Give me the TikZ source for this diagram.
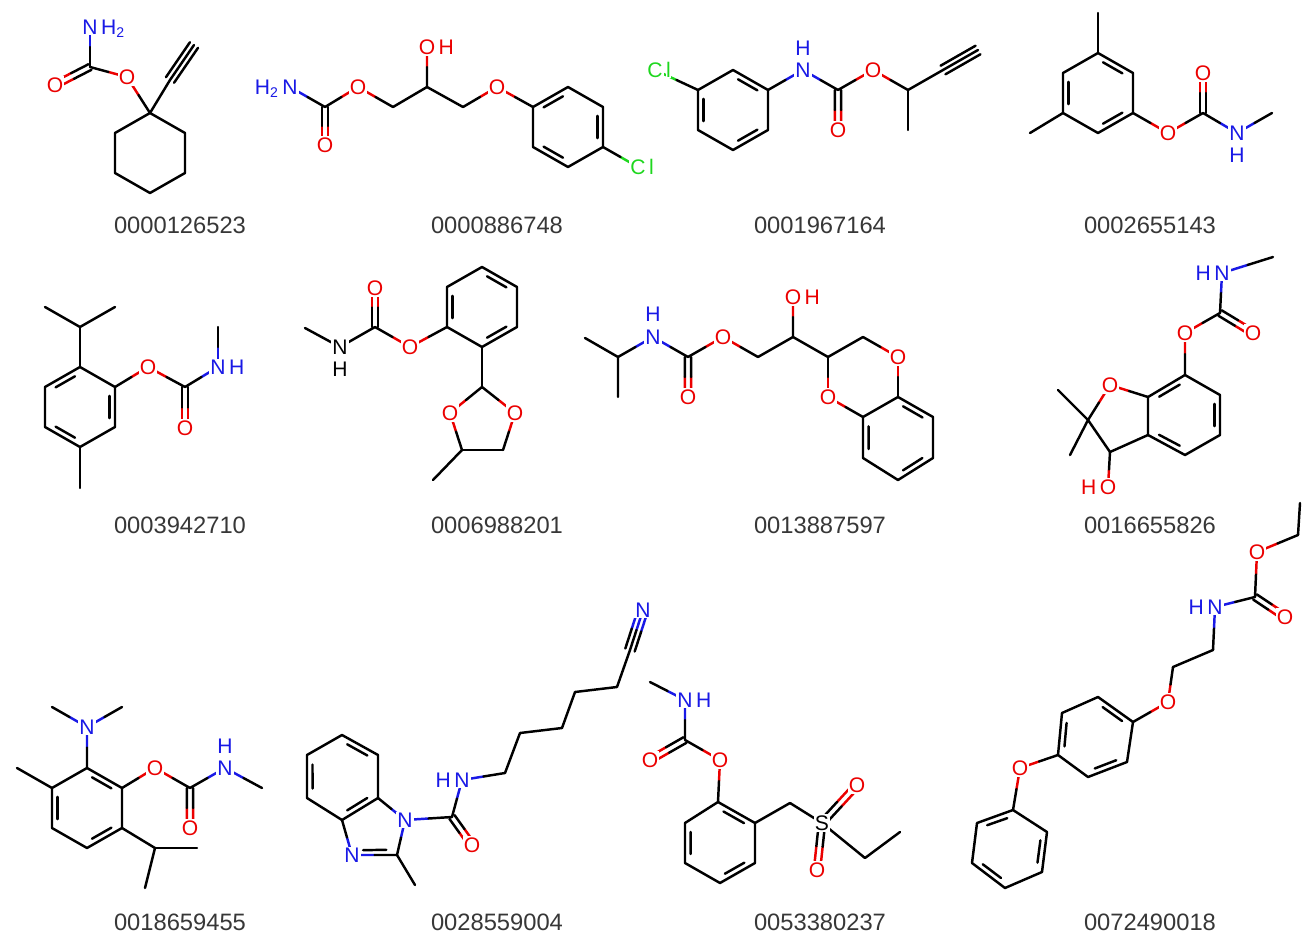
\documentclass[tikz,border=0pt]{standalone}
\usepackage{fontspec}
\setmainfont{Liberation Sans}
\usetikzlibrary{calc}
\definecolor{ored}{RGB}{235,0,0}
\definecolor{nblue}{RGB}{25,25,230}
\definecolor{clg}{RGB}{30,215,30}
\definecolor{capc}{RGB}{55,55,55}
\newcommand\bd[2]{\draw (#1)--(#2);}
\newcommand\hb[3]{\draw[#3] (#1)--($(#1)!.5!(#2)$); \draw ($(#1)!.5!(#2)$)--(#2);}
\newcommand\dbh[4]{%
 \coordinate (t1) at ($(#1)!1.8pt!90:(#2)$); \coordinate (t2) at ($(#2)!1.8pt!-90:(#1)$);
 \coordinate (t3) at ($(#1)!1.8pt!-90:(#2)$); \coordinate (t4) at ($(#2)!1.8pt!90:(#1)$);
 \draw[#3] (t1)--($(t1)!.5!(t2)$); \draw[#4] ($(t1)!.5!(t2)$)--(t2);
 \draw[#3] (t3)--($(t3)!.5!(t4)$); \draw[#4] ($(t3)!.5!(t4)$)--(t4);}
\newcommand\tbh[4]{%
 \coordinate (t1) at ($(#1)!2.8pt!90:(#2)$); \coordinate (t2) at ($(#2)!2.8pt!-90:(#1)$);
 \coordinate (t3) at ($(#1)!2.8pt!-90:(#2)$); \coordinate (t4) at ($(#2)!2.8pt!90:(#1)$);
 \draw[#3] (t1)--($(t1)!.5!(t2)$); \draw[#4] ($(t1)!.5!(t2)$)--(t2);
 \draw[#3] (t3)--($(t3)!.5!(t4)$); \draw[#4] ($(t3)!.5!(t4)$)--(t4);
 \draw[#3] (#1)--($(#1)!.5!(#2)$); \draw[#4] ($(#1)!.5!(#2)$)--(#2);}
\newcommand\rdb[3]{%
 \coordinate (u1) at ($(#1)!.17!(#2)$); \coordinate (u2) at ($(#2)!.17!(#1)$);
 \draw ($(u1)!3.4pt!(#3)$)--($(u2)!3.4pt!(#3)$);}
\newcommand\lbl[3]{\node[lab,text=#1] at (#2) {#3};}
\newcommand\lblR[4]{\node[lab,text=#1] (tmp) at (#2) {#3}; \node[lab,text=#1,anchor=base west,inner xsep=0pt] at (tmp.base east) {#4};}
\newcommand\lblL[4]{\node[lab,text=#1] (tmp) at (#2) {#3}; \node[lab,text=#1,anchor=base east,inner xsep=0pt] at (tmp.base west) {#4};}
\newcommand\capn[2]{\node[capt] at (#1) {#2};}
\begin{document}
\begin{tikzpicture}[x=0.02cm,y=-0.02cm,line width=1.4pt,line cap=round,line join=round,
 lab/.style={font=\fontsize{12}{12}\selectfont,fill=white,inner sep=0.6pt},
 capt/.style={font=\fontsize{13.5}{14}\selectfont,text=capc}]
\fill[white] (0,0) rectangle (1312,943);
\useasboundingbox (0,0) rectangle (1312,943);
% ---------- Mol 1
\coordinate (N) at (90,27); \coordinate (C) at (90,67); \coordinate (Od) at (55,85);
\coordinate (Oe) at (127,77); \coordinate (Cq) at (150,113);
\coordinate (r2) at (185,133); \coordinate (r3) at (185,173); \coordinate (r4) at (150,193); \coordinate (r5) at (115,173); \coordinate (r6) at (115,133);
\coordinate (A1) at (170,80); \coordinate (A2) at (194,45);
\hb{N}{C}{nblue} \dbh{Od}{C}{ored}{black} \hb{Oe}{C}{ored} \hb{Oe}{Cq}{ored}
\draw (Cq)--(r2)--(r3)--(r4)--(r5)--(r6)--(Cq); \bd{Cq}{A1} \tbh{A1}{A2}{black}{black}
\lblR{nblue}{N}{N}{H\textsubscript{2}} \lbl{ored}{Od}{O} \lbl{ored}{Oe}{O}
\capn{180,225}{0000126523}
% ---------- Mol 2
\coordinate (N) at (290,87); \coordinate (C) at (325,107); \coordinate (Od) at (325,145);
\coordinate (Oe) at (358,87); \coordinate (c1) at (393,107); \coordinate (c2) at (427,87); \coordinate (Oh) at (427,47);
\coordinate (c3) at (463,107); \coordinate (Oa) at (497,87);
\coordinate (TL) at (533,107); \coordinate (T) at (568,87); \coordinate (TR) at (603,107); \coordinate (BR) at (603,147); \coordinate (B) at (568,167); \coordinate (BL) at (533,147);
\coordinate (rc) at ($(T)!.5!(B)$); \coordinate (Cl) at (638,167);
\hb{N}{C}{nblue} \dbh{Od}{C}{ored}{black} \hb{Oe}{C}{ored} \hb{Oe}{c1}{ored} \bd{c1}{c2} \hb{Oh}{c2}{ored} \bd{c2}{c3}
\hb{Oa}{c3}{ored} \hb{Oa}{TL}{ored}
\draw (TL)--(T)--(TR)--(BR)--(B)--(BL)--cycle; \rdb{TL}{T}{rc} \rdb{TR}{BR}{rc} \rdb{B}{BL}{rc}
\hb{Cl}{BR}{clg}
\lblL{nblue}{N}{N}{H\textsubscript{2}} \lbl{ored}{Od}{O} \lbl{ored}{Oe}{O} \lblR{ored}{Oh}{O}{H} \lbl{ored}{Oa}{O} \lblR{clg}{Cl}{C}{l}
\capn{497,225}{0000886748}
% ---------- Mol 3
\coordinate (Cl) at (655,70); \coordinate (TL) at (698,90); \coordinate (T) at (733,70); \coordinate (TR) at (768,90); \coordinate (BR) at (768,130); \coordinate (B) at (733,150); \coordinate (BL) at (698,130);
\coordinate (rc) at ($(T)!.5!(B)$);
\coordinate (N) at (803,70); \coordinate (C) at (838,90); \coordinate (Od) at (838,130); \coordinate (Oe) at (873,70);
\coordinate (c1) at (908,90); \coordinate (m) at (908,130); \coordinate (A1) at (943,70); \coordinate (A2) at (978,50);
\draw (TL)--(T)--(TR)--(BR)--(B)--(BL)--cycle; \rdb{BL}{TL}{rc} \rdb{T}{TR}{rc} \rdb{BR}{B}{rc}
\hb{Cl}{TL}{clg} \hb{N}{TR}{nblue} \hb{N}{C}{nblue} \dbh{Od}{C}{ored}{black} \hb{Oe}{C}{ored} \hb{Oe}{c1}{ored}
\bd{c1}{m} \bd{c1}{A1} \tbh{A1}{A2}{black}{black}
\lblR{clg}{Cl}{C}{l} \lbl{nblue}{N}{N} \lbl{nblue}{803,48}{H} \lbl{ored}{Od}{O} \lbl{ored}{Oe}{O}
\capn{820,225}{0001967164}
% ---------- Mol 4
\coordinate (T) at (1098,53); \coordinate (mt) at (1098,13); \coordinate (TR) at (1133,73); \coordinate (BR) at (1133,113); \coordinate (B) at (1098,133); \coordinate (BL) at (1063,113); \coordinate (TL) at (1063,73);
\coordinate (rc) at ($(T)!.5!(B)$); \coordinate (ml) at (1030,133);
\coordinate (Oe) at (1168,133); \coordinate (C) at (1203,113); \coordinate (Od) at (1203,73); \coordinate (N) at (1237,133); \coordinate (mn) at (1272,113);
\draw (TL)--(T)--(TR)--(BR)--(B)--(BL)--cycle; \rdb{BL}{TL}{rc} \rdb{T}{TR}{rc} \rdb{BR}{B}{rc}
\bd{T}{mt} \bd{BL}{ml} \hb{Oe}{BR}{ored} \hb{Oe}{C}{ored} \dbh{Od}{C}{ored}{black} \hb{N}{C}{nblue} \hb{N}{mn}{nblue}
\lbl{ored}{Oe}{O} \lbl{ored}{Od}{O} \lbl{nblue}{N}{N} \lbl{nblue}{1237,155}{H}
\capn{1150,225}{0002655143}
% ---------- Mol 5
\coordinate (m1) at (45,307); \coordinate (m2) at (115,307); \coordinate (ch) at (80,327);
\coordinate (T) at (80,367); \coordinate (TR) at (115,387); \coordinate (BR) at (115,427); \coordinate (B) at (80,447); \coordinate (BL) at (45,427); \coordinate (TL) at (45,387);
\coordinate (rc) at ($(T)!.5!(B)$); \coordinate (mb) at (80,488);
\coordinate (Oe) at (148,367); \coordinate (C) at (185,387); \coordinate (Od) at (185,428); \coordinate (N) at (218,367); \coordinate (mn) at (218,327);
\draw (TL)--(T)--(TR)--(BR)--(B)--(BL)--cycle; \rdb{TL}{T}{rc} \rdb{TR}{BR}{rc} \rdb{B}{BL}{rc}
\draw (m1)--(ch)--(m2); \bd{ch}{T} \bd{B}{mb} \hb{Oe}{TR}{ored} \hb{Oe}{C}{ored} \dbh{Od}{C}{ored}{black} \hb{N}{C}{nblue} \hb{N}{mn}{nblue}
\lbl{ored}{Oe}{O} \lbl{ored}{Od}{O} \lblR{nblue}{N}{N}{H}
\capn{180,525}{0003942710}
% ---------- Mol 6
\coordinate (mn) at (305,328); \coordinate (N) at (340,347); \coordinate (C) at (375,327); \coordinate (Od) at (375,288); \coordinate (Oe) at (410,347);
\coordinate (BL) at (447,327); \coordinate (TL) at (447,287); \coordinate (T) at (482,267); \coordinate (TR) at (517,287); \coordinate (BR) at (517,327); \coordinate (B) at (482,347);
\coordinate (rc) at ($(T)!.5!(B)$);
\coordinate (ch) at (482,387); \coordinate (O1) at (450,413); \coordinate (O2) at (515,413); \coordinate (c5) at (503,450); \coordinate (c4) at (462,450); \coordinate (m4) at (433,480);
\draw (TL)--(T)--(TR)--(BR)--(B)--(BL)--cycle; \rdb{BL}{TL}{rc} \rdb{T}{TR}{rc} \rdb{BR}{B}{rc}
\hb{N}{mn}{black} \hb{N}{C}{black} \dbh{Od}{C}{ored}{black} \hb{Oe}{C}{ored} \hb{Oe}{BL}{ored}
\bd{B}{ch} \hb{O1}{ch}{ored} \hb{O2}{ch}{ored} \hb{O2}{c5}{ored} \bd{c5}{c4} \hb{O1}{c4}{ored} \bd{c4}{m4}
\lbl{black}{N}{N} \lbl{black}{340,369}{H} \lbl{ored}{Od}{O} \lbl{ored}{Oe}{O} \lbl{ored}{O1}{O} \lbl{ored}{O2}{O}
\capn{497,525}{0006988201}
% ---------- Mol 7
\coordinate (m1) at (585,338); \coordinate (ch) at (618,357); \coordinate (m2) at (618,397); \coordinate (N) at (653,337);
\coordinate (C) at (688,357); \coordinate (Od) at (688,397); \coordinate (Oe) at (723,337); \coordinate (c1) at (758,357);
\coordinate (c2) at (793,337); \coordinate (Oh) at (793,297); \coordinate (c3) at (828,357); \coordinate (c4) at (863,337);
\coordinate (Oa) at (898,357); \coordinate (Ob) at (828,397);
\coordinate (T) at (898,397); \coordinate (TR) at (933,417); \coordinate (BR) at (933,458); \coordinate (B) at (898,480); \coordinate (BL) at (863,458); \coordinate (TL) at (863,417);
\coordinate (rc) at ($(T)!.5!(B)$);
\draw (m1)--(ch)--(m2); \hb{N}{ch}{nblue} \hb{N}{C}{nblue} \dbh{Od}{C}{ored}{black} \hb{Oe}{C}{ored} \hb{Oe}{c1}{ored}
\bd{c1}{c2} \hb{Oh}{c2}{ored} \bd{c2}{c3} \bd{c3}{c4} \hb{Oa}{c4}{ored} \hb{Oa}{T}{ored} \hb{Ob}{c3}{ored} \hb{Ob}{TL}{ored}
\draw (TL)--(T)--(TR)--(BR)--(B)--(BL)--cycle; \rdb{TL}{BL}{rc} \rdb{T}{TR}{rc} \rdb{BR}{B}{rc}
\lbl{nblue}{N}{N} \lbl{nblue}{653,314}{H} \lbl{ored}{Od}{O} \lbl{ored}{Oe}{O} \lblR{ored}{Oh}{O}{H} \lbl{ored}{Oa}{O} \lbl{ored}{Ob}{O}
\capn{820,525}{0013887597}
% ---------- Mol 8
\coordinate (mn) at (1273,257); \coordinate (N) at (1222,273); \coordinate (C) at (1220,313); \coordinate (Od) at (1253,333); \coordinate (Oe) at (1185,333);
\coordinate (c7) at (1185,375); \coordinate (c6) at (1220,395); \coordinate (c5) at (1220,435); \coordinate (c4) at (1185,455); \coordinate (c3a) at (1148,435); \coordinate (c7a) at (1148,397);
\coordinate (rc) at ($(c7)!.5!(c4)$);
\coordinate (O1) at (1110,385); \coordinate (c2) at (1088,420); \coordinate (ma) at (1058,390); \coordinate (mb) at (1070,455); \coordinate (c3) at (1110,452); \coordinate (Oh) at (1108,487);
\hb{N}{mn}{nblue} \hb{N}{C}{nblue} \dbh{Od}{C}{ored}{black} \hb{Oe}{C}{ored} \hb{Oe}{c7}{ored}
\draw (c7)--(c6)--(c5)--(c4)--(c3a)--(c7a)--cycle; \rdb{c7a}{c7}{rc} \rdb{c6}{c5}{rc} \rdb{c4}{c3a}{rc}
\hb{O1}{c7a}{ored} \hb{O1}{c2}{ored} \bd{c2}{ma} \bd{c2}{mb} \bd{c2}{c3} \bd{c3}{c3a} \hb{Oh}{c3}{ored}
\lblL{nblue}{N}{N}{H} \lbl{ored}{Od}{O} \lbl{ored}{Oe}{O} \lbl{ored}{O1}{O} \lblL{ored}{Oh}{O}{H}
\capn{1150,525}{0016655826}
% ---------- Mol 9
\coordinate (N) at (87,727); \coordinate (ma) at (52,707); \coordinate (mb) at (122,707);
\coordinate (c2) at (87,768); \coordinate (c1) at (122,788); \coordinate (c6) at (122,828); \coordinate (c5) at (87,848); \coordinate (c4) at (52,828); \coordinate (c3) at (52,788);
\coordinate (rc) at ($(c2)!.5!(c5)$); \coordinate (ml) at (17,768);
\coordinate (Oe) at (155,768); \coordinate (C) at (190,788); \coordinate (Od) at (190,828); \coordinate (N2) at (225,768); \coordinate (mn) at (262,788);
\coordinate (ch) at (155,848); \coordinate (mc) at (197,848); \coordinate (md) at (145,888);
\draw (c2)--(c1)--(c6)--(c5)--(c4)--(c3)--cycle; \rdb{c2}{c1}{rc} \rdb{c4}{c3}{rc} \rdb{c6}{c5}{rc}
\hb{N}{ma}{nblue} \hb{N}{mb}{nblue} \hb{N}{c2}{nblue} \bd{c3}{ml} \hb{Oe}{c1}{ored} \hb{Oe}{C}{ored} \dbh{Od}{C}{ored}{black}
\hb{N2}{C}{nblue} \hb{N2}{mn}{nblue} \bd{c6}{ch} \bd{ch}{mc} \bd{ch}{md}
\lbl{nblue}{N}{N} \lbl{ored}{Oe}{O} \lbl{ored}{Od}{O} \lbl{nblue}{N2}{N} \lbl{nblue}{225,746}{H}
\capn{180,922}{0018659455}
% ---------- Mol 10
\coordinate (T) at (342,735); \coordinate (TR) at (378,755); \coordinate (R) at (378,798); \coordinate (B) at (342,820); \coordinate (L) at (307,798); \coordinate (TL) at (307,755);
\coordinate (rc) at ($(T)!.5!(B)$);
\coordinate (N1) at (405,820); \coordinate (c2) at (397,855); \coordinate (N3) at (352,855); \coordinate (rc5) at (376,832); \coordinate (m2) at (415,885);
\coordinate (C) at (452,817); \coordinate (Od) at (472,845); \coordinate (N) at (462,780);
\coordinate (k1) at (505,773); \coordinate (k2) at (520,733); \coordinate (k3) at (562,728); \coordinate (k4) at (575,692); \coordinate (k5) at (617,687); \coordinate (k6) at (630,650); \coordinate (Nn) at (643,610);
\draw (T)--(TR)--(R)--(B)--(L)--(TL)--cycle; \rdb{TL}{L}{rc} \rdb{T}{TR}{rc} \rdb{R}{B}{rc}
\hb{N1}{R}{nblue} \hb{N1}{c2}{nblue} \hb{N3}{B}{nblue} \hb{N3}{c2}{nblue} \rdb{N3}{c2}{rc5} \bd{c2}{m2}
\hb{N1}{C}{nblue} \dbh{Od}{C}{ored}{black} \hb{N}{C}{nblue} \hb{N}{k1}{nblue}
\draw (k1)--(k2)--(k3)--(k4)--(k5)--(k6); \tbh{Nn}{k6}{nblue}{black}
\lbl{nblue}{N1}{N} \lbl{nblue}{N3}{N} \lbl{ored}{Od}{O} \lblL{nblue}{N}{N}{H} \lbl{nblue}{Nn}{N}
\capn{497,922}{0028559004}
% ---------- Mol 11
\coordinate (mn) at (650,682); \coordinate (N) at (685,700); \coordinate (C) at (685,740); \coordinate (Od) at (650,760); \coordinate (Oe) at (720,760);
\coordinate (c1) at (718,802); \coordinate (c2) at (755,823); \coordinate (c3) at (755,863); \coordinate (c4) at (720,883); \coordinate (c5) at (685,863); \coordinate (c6) at (685,823);
\coordinate (rc) at ($(c1)!.5!(c4)$);
\coordinate (ch) at (790,803); \coordinate (S) at (822,823); \coordinate (Os1) at (857,785); \coordinate (Os2) at (817,870); \coordinate (e1) at (865,858); \coordinate (e2) at (900,832);
\hb{N}{mn}{nblue} \hb{N}{C}{nblue} \dbh{Od}{C}{ored}{black} \hb{Oe}{C}{ored} \hb{Oe}{c1}{ored}
\draw (c1)--(c2)--(c3)--(c4)--(c5)--(c6)--cycle; \rdb{c6}{c5}{rc} \rdb{c1}{c2}{rc} \rdb{c3}{c4}{rc}
\bd{c2}{ch} \bd{ch}{S} \dbh{Os1}{S}{ored}{black} \dbh{Os2}{S}{ored}{black} \bd{S}{e1} \bd{e1}{e2}
\lblR{nblue}{N}{N}{H} \lbl{ored}{Od}{O} \lbl{ored}{Oe}{O} \lbl{black}{S}{S} \lbl{ored}{Os1}{O} \lbl{ored}{Os2}{O}
\capn{820,922}{0053380237}
% ---------- Mol 12
\coordinate (me) at (1300,503); \coordinate (ce) at (1298,535); \coordinate (Oe) at (1257,552); \coordinate (C) at (1255,597); \coordinate (Od) at (1285,617);
\coordinate (N) at (1215,607); \coordinate (k1) at (1213,650); \coordinate (k2) at (1173,667); \coordinate (Oa) at (1168,702);
\coordinate (a1) at (1133,722); \coordinate (a2) at (1127,762); \coordinate (a3) at (1088,777); \coordinate (a4) at (1058,755); \coordinate (a5) at (1062,713); \coordinate (a6) at (1098,697);
\coordinate (rca) at ($(a1)!.5!(a4)$); \coordinate (Ob) at (1020,768);
\coordinate (p1) at (1013,810); \coordinate (p2) at (1047,832); \coordinate (p3) at (1042,872); \coordinate (p4) at (1005,888); \coordinate (p5) at (972,863); \coordinate (p6) at (977,823);
\coordinate (rcp) at ($(p1)!.5!(p4)$);
\draw (me)--(ce); \hb{Oe}{ce}{ored} \hb{Oe}{C}{ored} \dbh{Od}{C}{ored}{black} \hb{N}{C}{nblue} \hb{N}{k1}{nblue} \bd{k1}{k2} \hb{Oa}{k2}{ored} \hb{Oa}{a1}{ored}
\draw (a1)--(a2)--(a3)--(a4)--(a5)--(a6)--cycle; \rdb{a5}{a4}{rca} \rdb{a6}{a1}{rca} \rdb{a2}{a3}{rca}
\hb{Ob}{a4}{ored} \hb{Ob}{p1}{ored}
\draw (p1)--(p2)--(p3)--(p4)--(p5)--(p6)--cycle; \rdb{p6}{p1}{rcp} \rdb{p2}{p3}{rcp} \rdb{p4}{p5}{rcp}
\lbl{ored}{Oe}{O} \lbl{ored}{Od}{O} \lblL{nblue}{N}{N}{H} \lbl{ored}{Oa}{O} \lbl{ored}{Ob}{O}
\capn{1150,922}{0072490018}
\end{tikzpicture}
\end{document}
